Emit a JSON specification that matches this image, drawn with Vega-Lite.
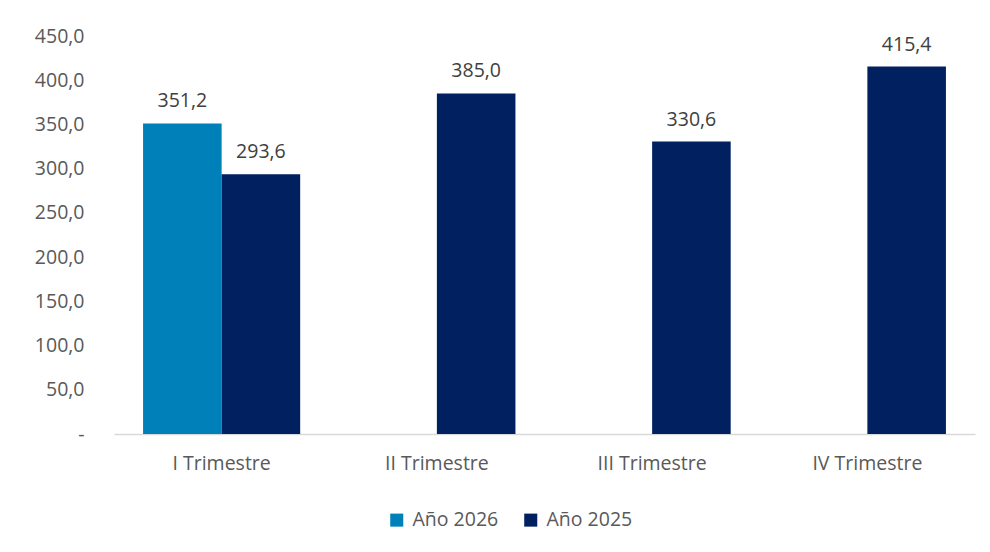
{
  "$schema": "https://vega.github.io/schema/vega-lite/v6.json",
  "width": 861,
  "height": 398,
  "autosize": {"type": "none"},
  "padding": {"left": 114, "top": 36, "right": 15, "bottom": 118},
  "config": {
    "locale": {"number": {"decimal": ",", "thousands": ".", "grouping": [3], "currency": ["", " €"]}},
    "view": {"stroke": null},
    "font": "Open Sans"
  },
  "data": {
    "values": [
      {"trimestre": "I Trimestre", "serie": "Año 2026", "valor": 351.2},
      {"trimestre": "I Trimestre", "serie": "Año 2025", "valor": 293.6},
      {"trimestre": "II Trimestre", "serie": "Año 2025", "valor": 385.0},
      {"trimestre": "III Trimestre", "serie": "Año 2025", "valor": 330.6},
      {"trimestre": "IV Trimestre", "serie": "Año 2025", "valor": 415.4}
    ]
  },
  "encoding": {
    "x": {
      "field": "trimestre",
      "type": "nominal",
      "sort": ["I Trimestre", "II Trimestre", "III Trimestre", "IV Trimestre"],
      "scale": {"paddingInner": 0.27, "paddingOuter": 0.135},
      "axis": {
        "title": null,
        "labelAngle": 0,
        "ticks": false,
        "domainColor": "#D9D9D9",
        "domainWidth": 1.5,
        "labelFontSize": 19.5,
        "labelColor": "#595959",
        "labelPadding": 20,
        "grid": false
      }
    },
    "xOffset": {"field": "serie", "sort": ["Año 2026", "Año 2025"]},
    "y": {
      "field": "valor",
      "type": "quantitative",
      "scale": {"domain": [0, 450], "nice": false},
      "axis": {
        "title": null,
        "values": [0, 50, 100, 150, 200, 250, 300, 350, 400, 450],
        "format": ".1f",
        "labelExpr": "datum.value == 0 ? '-' : datum.label",
        "domain": false,
        "ticks": false,
        "grid": false,
        "labelFontSize": 19.5,
        "labelColor": "#595959",
        "labelPadding": 30
      }
    }
  },
  "layer": [
    {
      "mark": {"type": "bar"},
      "encoding": {
        "color": {
          "field": "serie",
          "type": "nominal",
          "sort": ["Año 2026", "Año 2025"],
          "scale": {"domain": ["Año 2026", "Año 2025"], "range": ["#0080B9", "#002060"]},
          "legend": {
            "title": null,
            "orient": "none",
            "direction": "horizontal",
            "legendX": 273,
            "legendY": 474,
            "symbolType": "square",
            "symbolSize": 170,
            "symbolStrokeWidth": 0,
            "labelFontSize": 19.5,
            "labelColor": "#595959",
            "columnPadding": 22,
            "labelOffset": 6
          }
        }
      }
    },
    {
      "mark": {"type": "text", "baseline": "bottom", "dy": -12, "fontSize": 19.5, "color": "#404040"},
      "encoding": {"text": {"field": "valor", "type": "quantitative", "format": ".1f"}}
    }
  ]
}
